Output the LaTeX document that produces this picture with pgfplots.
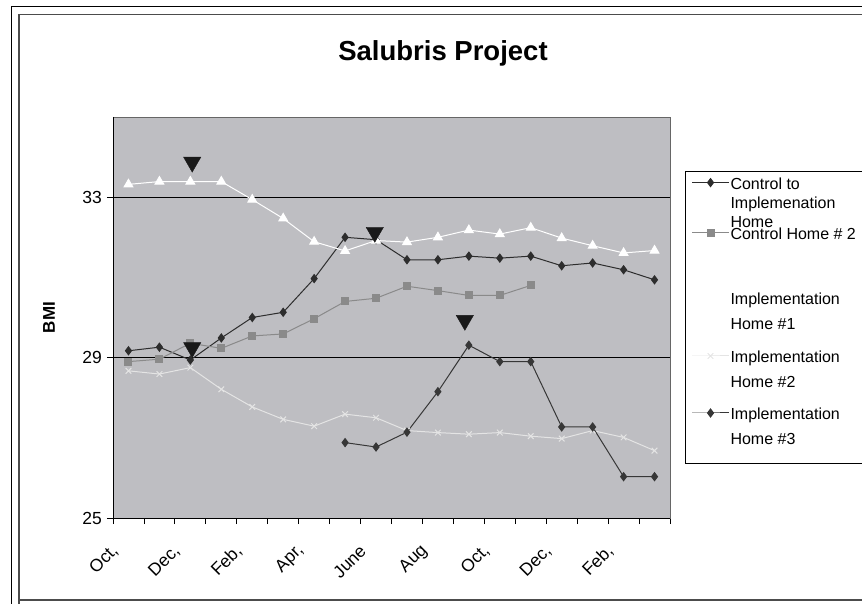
\documentclass[border=0pt]{standalone}
\usepackage{fontspec}
\setmainfont{Liberation Sans}
\usepackage{pgfplots}
\pgfplotsset{compat=1.18}
\definecolor{plotbg}{RGB}{190,190,194}
\definecolor{ser1}{RGB}{45,45,45}
\definecolor{ser2}{RGB}{138,138,138}
\definecolor{ser4}{RGB}{228,228,228}
\definecolor{ser5}{RGB}{55,55,55}
\begin{document}
\begin{tikzpicture}[x=1pt,y=1pt]
\useasboundingbox (0,0) rectangle (862,603);
% outer frames
\draw[black, line width=1pt] (11.7,-10) -- (11.7,596.3) -- (900,596.3);
\draw[gray!60!black, line width=1.5pt] (19,-10) -- (19,588.7) -- (900,588.7);
\draw[gray!60!black, line width=1.5pt] (19,3) -- (900,3);
% legend frame
\draw[black, line width=1pt] (900,431) -- (685,431) -- (685,140) -- (900,140);
% title
\node[font=\bfseries\fontsize{27.5}{30}\selectfont, anchor=base] at (443,542) {Salubris Project};
\begin{axis}[
  at={(113pt,85pt)}, anchor=south west,
  scale only axis, width=557pt, height=401pt,
  xmin=-0.5, xmax=17.5, ymin=25, ymax=35,
  axis background/.style={fill=plotbg},
  axis line style={draw=gray!80!black, line width=0.8pt},
  xtick={0,2,...,16},
  xticklabels={{Oct,},{Dec,},{Feb,},{Apr,},{June},{Aug},{Oct,},{Dec,},{Feb,}},
  minor xtick={-0.5,0.5,...,17.5},
  major x tick style={draw=none},
  minor x tick style={black, line width=0.8pt},
  minor tick length=6pt,
  major tick length=6pt,
  ytick={25,29,33},
  ytick style={black, line width=0.8pt},
  tick align=outside,
  xtick pos=bottom, ytick pos=left,
  ymajorgrids,
  major grid style={black, line width=1pt},
  /pgf/number format/assume math mode=true,
  yticklabel style={font=\fontsize{17.5}{20}\selectfont, inner sep=0pt, anchor=east, xshift=-5pt},
  xticklabel style={font=\fontsize{17.5}{20}\selectfont, inner sep=0pt, xshift=-13pt, yshift=-24pt, rotate=45, anchor=east},
  ylabel={BMI},
  ylabel style={font=\bfseries\fontsize{17}{20}\selectfont, at={(axis description cs:-0.115,0.5)}, anchor=center},
  legend image code/.code={\draw[mark repeat=2,mark phase=2,#1] plot coordinates {(0pt,7pt) (18.5pt,7pt) (37pt,7pt)};},
  legend style={at={(axis description cs:1.0386,0.8479)}, anchor=north west,
    draw=none, fill=none, inner sep=0pt, outer sep=0pt,
    row sep=0pt, column sep=1pt,
    cells={anchor=base west},
    nodes={inner sep=0pt, outer sep=0pt, text depth={}, text height={}, font=\fontsize{16}{25}\selectfont}},
]
\addplot[ser1, line width=1pt, mark=diamond*, mark size=4pt, mark options={solid, fill=ser1}]
  coordinates {(0,29.17)(1,29.26)(2,28.94)(3,29.49)(4,30.00)(5,30.13)(6,30.97)(7,32.00)(8,31.94)(9,31.44)(10,31.44)(11,31.53)(12,31.48)(13,31.53)(14,31.29)(15,31.36)(16,31.19)(17,30.94)};
\addlegendentry{\parbox[t][50pt][t]{130pt}{\fontsize{16}{19}\selectfont Control to\\Implemenation\\Home}}
\addplot[ser2, line width=1pt, mark=square*, mark size=3.5pt, mark options={solid, fill=ser2}]
  coordinates {(0,28.90)(1,28.96)(2,29.36)(3,29.23)(4,29.54)(5,29.59)(6,29.97)(7,30.40)(8,30.48)(9,30.78)(10,30.67)(11,30.55)(12,30.55)(13,30.80)};
\addlegendentry{\parbox[t][65pt][t]{130pt}{Control Home \# 2}}
\addplot[white, line width=1pt, mark=triangle*, mark size=5pt, mark options={solid, fill=white}]
  coordinates {(0,33.32)(1,33.39)(2,33.39)(3,33.39)(4,32.94)(5,32.47)(6,31.89)(7,31.66)(8,31.92)(9,31.88)(10,32.00)(11,32.18)(12,32.08)(13,32.24)(14,31.98)(15,31.79)(16,31.61)(17,31.67)};
\addlegendentry{\parbox[t][58pt][t]{130pt}{Implementation\\Home \#1}}
\addplot[ser4, line width=1pt, mark=x, mark size=4pt, mark options={solid}]
  coordinates {(0,28.67)(1,28.59)(2,28.75)(3,28.21)(4,27.77)(5,27.46)(6,27.29)(7,27.59)(8,27.50)(9,27.18)(10,27.13)(11,27.09)(12,27.13)(13,27.04)(14,26.98)(15,27.18)(16,27.01)(17,26.68)};
\addlegendentry{\parbox[t][57pt][t]{130pt}{Implementation\\Home \#2}}
\addplot[ser5, line width=1pt, mark=diamond*, mark size=4pt, mark options={solid, fill=ser5}]
  coordinates {(7,26.88)(8,26.77)(9,27.14)(10,28.15)(11,29.31)(12,28.90)(13,28.90)(14,27.27)(15,27.27)(16,26.03)(17,26.03)};
\addlegendentry{\parbox[t][40pt][t]{130pt}{Implementation\\Home \#3}}
% event markers
\addplot[only marks, forget plot, mark=triangle*, mark size=10pt, mark options={rotate=180, fill=black!90, draw=black!90}]
  coordinates {(2.06,33.875)(2.06,29.25)(7.96,32.125)(10.87,29.93)};
\draw[black, line width=0.8pt] (rel axis cs:0,1) -- (rel axis cs:0,0) -- (rel axis cs:1,0);
\end{axis}
\end{tikzpicture}
\end{document}
